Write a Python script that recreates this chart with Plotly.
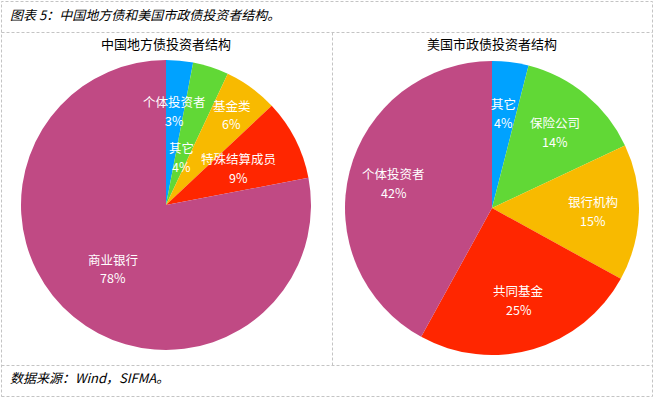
import math
import plotly.graph_objects as go

# ---- data ----
cn_title = "中国地方债投资者结构"
cn_labels = ["个体投资者", "其它", "基金类", "特殊结算成员", "商业银行"]
cn_values = [3, 4, 6, 9, 78]

us_title = "美国市政债投资者结构"
us_labels = ["其它", "保险公司", "银行机构", "共同基金", "个体投资者"]
us_values = [4, 14, 15, 25, 42]

chart_title = "图表 5：中国地方债和美国市政债投资者结构。"
source_text = "数据来源：Wind，SIFMA。"

# ---- style / layout ----
W, H = 657, 399
colors = ["#00A2FF", "#61D836", "#F8BA00", "#FF2600", "#C04A84"]
FONT = "Noto Sans CJK SC, Liberation Sans, sans-serif"
# label distance from centre as fraction of radius (Excel best-fit placement)
cn_label_r = [0.65, 0.35, 0.77, 0.56, 0.57]
us_label_r = [0.65, 0.67, 0.69, 0.65, 0.69]
LABEL_SIZE = 12.5
LINE_GAP = 18.6  # px between the name line and the percent line

# pie geometry in pixels: centre x, centre y, radius
cn_geom = (166, 205, 145)
us_geom = (492, 208, 147)


def fx(x):
    return x / W


def fy(y):
    return 1 - y / H


def pie_trace(labels, values, geom):
    cx, cy, r = geom
    return go.Pie(
        labels=labels, values=values, sort=False, direction="clockwise",
        rotation=0, textinfo="none", hoverinfo="label+percent",
        marker=dict(colors=colors, line=dict(width=0)),
        domain=dict(x=[fx(cx - r), fx(cx + r)], y=[fy(cy + r), fy(cy - r)]),
        showlegend=False,
    )


def label_annotations(labels, values, geom, rfrac):
    cx, cy, r = geom
    total = sum(values)
    anns = []
    cum = 0
    for lab, v, f in zip(labels, values, rfrac):
        mid = (cum + v / 2) / total * 2 * math.pi
        cum += v
        x = cx + f * r * math.sin(mid)
        y = cy - f * r * math.cos(mid)
        pct = round(v / total * 100)
        for txt, dy in ((lab, -LINE_GAP / 2), (f"{pct}%", LINE_GAP / 2)):
            anns.append(dict(
                x=fx(x), y=fy(y + dy), xref="paper", yref="paper",
                text=txt, showarrow=False, borderpad=0,
                font=dict(family=FONT, size=LABEL_SIZE, color="white"),
                align="center", xanchor="center", yanchor="middle",
            ))
    return anns


fig = go.Figure()
fig.add_trace(pie_trace(cn_labels, cn_values, cn_geom))
fig.add_trace(pie_trace(us_labels, us_values, us_geom))

annotations = []
annotations += label_annotations(cn_labels, cn_values, cn_geom, cn_label_r)
annotations += label_annotations(us_labels, us_values, us_geom, us_label_r)
annotations.append(dict(x=fx(166), y=fy(43), xref="paper", yref="paper",
                        text=cn_title, showarrow=False,
                        font=dict(family=FONT, size=13, color="black"),
                        xanchor="center", yanchor="middle"))
annotations.append(dict(x=fx(492), y=fy(43), xref="paper", yref="paper",
                        text=us_title, showarrow=False,
                        font=dict(family=FONT, size=13, color="black"),
                        xanchor="center", yanchor="middle"))
annotations.append(dict(x=fx(8), y=fy(14), xref="paper", yref="paper",
                        text=f"<i>{chart_title}</i>", showarrow=False,
                        font=dict(family=FONT, size=13, color="black"),
                        xanchor="left", yanchor="middle"))
annotations.append(dict(x=fx(8), y=fy(377), xref="paper", yref="paper",
                        text=f"<i>{source_text}</i>", showarrow=False,
                        font=dict(family=FONT, size=13, color="black"),
                        xanchor="left", yanchor="middle"))

dash = dict(color="#c4c4c4", width=1, dash="3px,2px")
shapes = [
    dict(type="rect", xref="paper", yref="paper",
         x0=fx(1.5), x1=fx(652.5), y0=fy(396.5), y1=fy(1.5), line=dash),
    dict(type="line", xref="paper", yref="paper",
         x0=fx(1.5), x1=fx(652.5), y0=fy(32.5), y1=fy(32.5), line=dash),
    dict(type="line", xref="paper", yref="paper",
         x0=fx(1.5), x1=fx(652.5), y0=fy(365.5), y1=fy(365.5), line=dash),
    dict(type="line", xref="paper", yref="paper",
         x0=fx(332.5), x1=fx(332.5), y0=fy(32.5), y1=fy(365.5), line=dash),
]

fig.update_layout(
    width=W, height=H, margin=dict(l=0, r=0, t=0, b=0),
    paper_bgcolor="white", plot_bgcolor="white",
    annotations=annotations, shapes=shapes,
    font=dict(family=FONT),
)

fig.write_html(
    "out.html",
    config={"displayModeBar": False},
    post_script="document.body.style.margin='0';document.body.style.overflow='hidden';",
)
